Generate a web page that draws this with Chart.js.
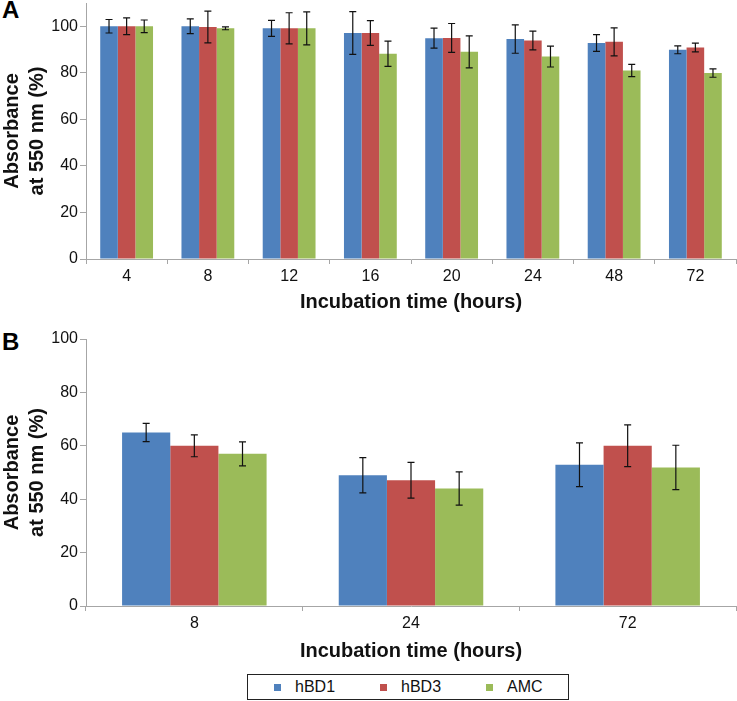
<!DOCTYPE html>
<html>
<head>
<meta charset="utf-8">
<script src="https://cdn.jsdelivr.net/npm/chart.js@4"></script>
<style>
  body { margin: 0; background: #fff; font-family: "Liberation Sans", Arial, sans-serif; }
  #wrap { position: relative; width: 737px; height: 701px; overflow: hidden; }
  canvas { position: absolute; left: 0; }
  .panel { position: absolute; left: 2px; font-weight: bold; font-size: 24px; line-height: 24px; color: #000; }
  #legend { position: absolute; left: 247px; top: 674px; width: 322px; height: 26px; border: 1px solid #222;
            box-sizing: border-box; font-size: 16px; line-height: 24px; color: #111; padding-left: 26px; white-space: nowrap; }
  .item { display: inline-block; width: 106px; }
  .item:last-child { width: auto; }
  .sw { display: inline-block; width: 7px; height: 7px; margin-right: 14px; vertical-align: 1px; }
</style>
</head>
<body>
<div id="wrap">
  <div class="panel" style="top:-2px">A</div>
  <canvas id="chartA" width="737" height="319" style="top:0"></canvas>
  <div class="panel" style="top:330px">B</div>
  <canvas id="chartB" width="737" height="345" style="top:323px"></canvas>
  <div id="legend"></div>
</div>
<script>
// -----------------------
// データ
// -----------------------
const seriesNames = ["hBD1", "hBD3", "AMC"];
const seriesColors = ["#4F81BD", "#C0504D", "#9BBB59"];

// Panel A
const hoursA = ["4", "8", "12", "16", "20", "24", "48", "72"];
const hbd1A = [100, 100, 99.1, 97.1, 94.9, 94.5, 92.8, 89.9];
const hbd3A = [100, 99.7, 99.1, 97.1, 95, 93.9, 93.3, 90.9];
const amcA = [100, 99.1, 99.1, 88.2, 89, 87, 81, 79.9];
const hbd1ErrA = [2.9, 3.2, 3.4, 9.2, 4.3, 6.1, 3.6, 1.7];
const hbd3ErrA = [3.6, 6.8, 6.7, 5.3, 6.2, 4.0, 6.0, 1.9];
const amcErrA = [2.7, 0.6, 7.1, 5.4, 6.9, 4.5, 2.6, 1.8];

// Panel B
const hoursB = ["8", "24", "72"];
const hbd1B = [65, 49, 52.9];
const hbd3B = [60, 47.1, 60];
const amcB = [57, 44, 51.9];
const hbd1ErrB = [3.4, 6.6, 8.2];
const hbd3ErrB = [4.1, 6.7, 7.8];
const amcErrB = [4.5, 6.2, 8.3];

const yTicks = [0, 20, 40, 60, 80, 100];

const FONT = "'Liberation Sans', Arial, sans-serif";
const AXIS_COLOR = "#A6A6A6";

// エラーバー描画
const errorBars = {
    id: "errorBars",
    afterDatasetsDraw(chart) {
        const ctx = chart.ctx;
        const y = chart.scales.y;
        ctx.save();
        ctx.strokeStyle = "#111";
        ctx.lineWidth = 1.2;
        chart.data.datasets.forEach((ds, di) => {
            const meta = chart.getDatasetMeta(di);
            meta.data.forEach((bar, i) => {
                const v = ds.data[i], e = ds.errors[i];
                const top = y.getPixelForValue(v + e);
                const bot = y.getPixelForValue(v - e);
                const x = bar.x;
                ctx.beginPath();
                ctx.moveTo(x, top); ctx.lineTo(x, bot);
                ctx.moveTo(x - 3.5, top); ctx.lineTo(x + 3.5, top);
                ctx.moveTo(x - 3.5, bot); ctx.lineTo(x + 3.5, bot);
                ctx.stroke();
            });
        });
        ctx.restore();
    }
};

function makeChart(id, labels, values, errors, opt) {
    const ctx = document.getElementById(id);
    return new Chart(ctx.getContext("2d"), {
        type: "bar",
        data: {
            labels: labels,
            datasets: values.map((vals, k) => ({
                label: seriesNames[k],
                data: vals,
                errors: errors[k],
                backgroundColor: seriesColors[k],
                borderWidth: 0,
                barPercentage: 1,
                categoryPercentage: opt.catPct
            }))
        },
        options: {
            responsive: false,
            animation: false,
            layout: { padding: { top: opt.padTop, right: 1, left: 0, bottom: 0 } },
            plugins: { legend: { display: false }, tooltip: { enabled: false } },
            scales: {
                x: {
                    grid: { drawOnChartArea: false, tickLength: 5, color: AXIS_COLOR },
                    border: { color: AXIS_COLOR },
                    ticks: { color: "#111", font: { family: FONT, size: 16 }, padding: 3 },
                    title: {
                        display: true, text: "Incubation time (hours)", color: "#111",
                        font: { family: FONT, size: 20, weight: "bold", lineHeight: 1.25 },
                        padding: { top: 0, bottom: 4 }
                    },
                    afterFit: s => { s.height = opt.xHeight; s.paddingLeft = 0; s.paddingRight = 0; }
                },
                y: {
                    min: 0, max: opt.yMax,
                    grid: { drawOnChartArea: false, tickLength: 6, color: AXIS_COLOR },
                    border: { color: AXIS_COLOR },
                    ticks: { stepSize: 20, color: "#111", font: { family: FONT, size: 16 }, padding: 2 },
                    afterBuildTicks: s => { s.ticks = yTicks.map(v => ({ value: v })); },
                    title: {
                        display: true, text: ["Absorbance", "at 550 nm (%)"], color: "#111",
                        font: { family: FONT, size: 20, weight: "bold", lineHeight: 1.25 },
                        padding: { top: 0, bottom: 0 }
                    },
                    afterFit: s => { s.width = 86; s.paddingTop = 0; s.paddingBottom = 0; }
                }
            }
        },
        plugins: [errorBars]
    });
}

makeChart("chartA", hoursA, [hbd1A, hbd3A, amcA], [hbd1ErrA, hbd3ErrA, amcErrA],
    { yMax: 110, padTop: 3, xHeight: 60, catPct: 0.65 });

makeChart("chartB", hoursB, [hbd1B, hbd3B, amcB], [hbd1ErrB, hbd3ErrB, amcErrB],
    { yMax: 100, padTop: 16, xHeight: 62, catPct: 0.667 });

// 凡例
(function () {
    const box = document.getElementById("legend");
    seriesNames.forEach((name, k) => {
        const item = document.createElement("span");
        item.className = "item";
        const sw = document.createElement("span");
        sw.className = "sw";
        sw.style.background = seriesColors[k];
        item.appendChild(sw);
        item.appendChild(document.createTextNode(name));
        box.appendChild(item);
    });
})();
</script>
</body>
</html>
